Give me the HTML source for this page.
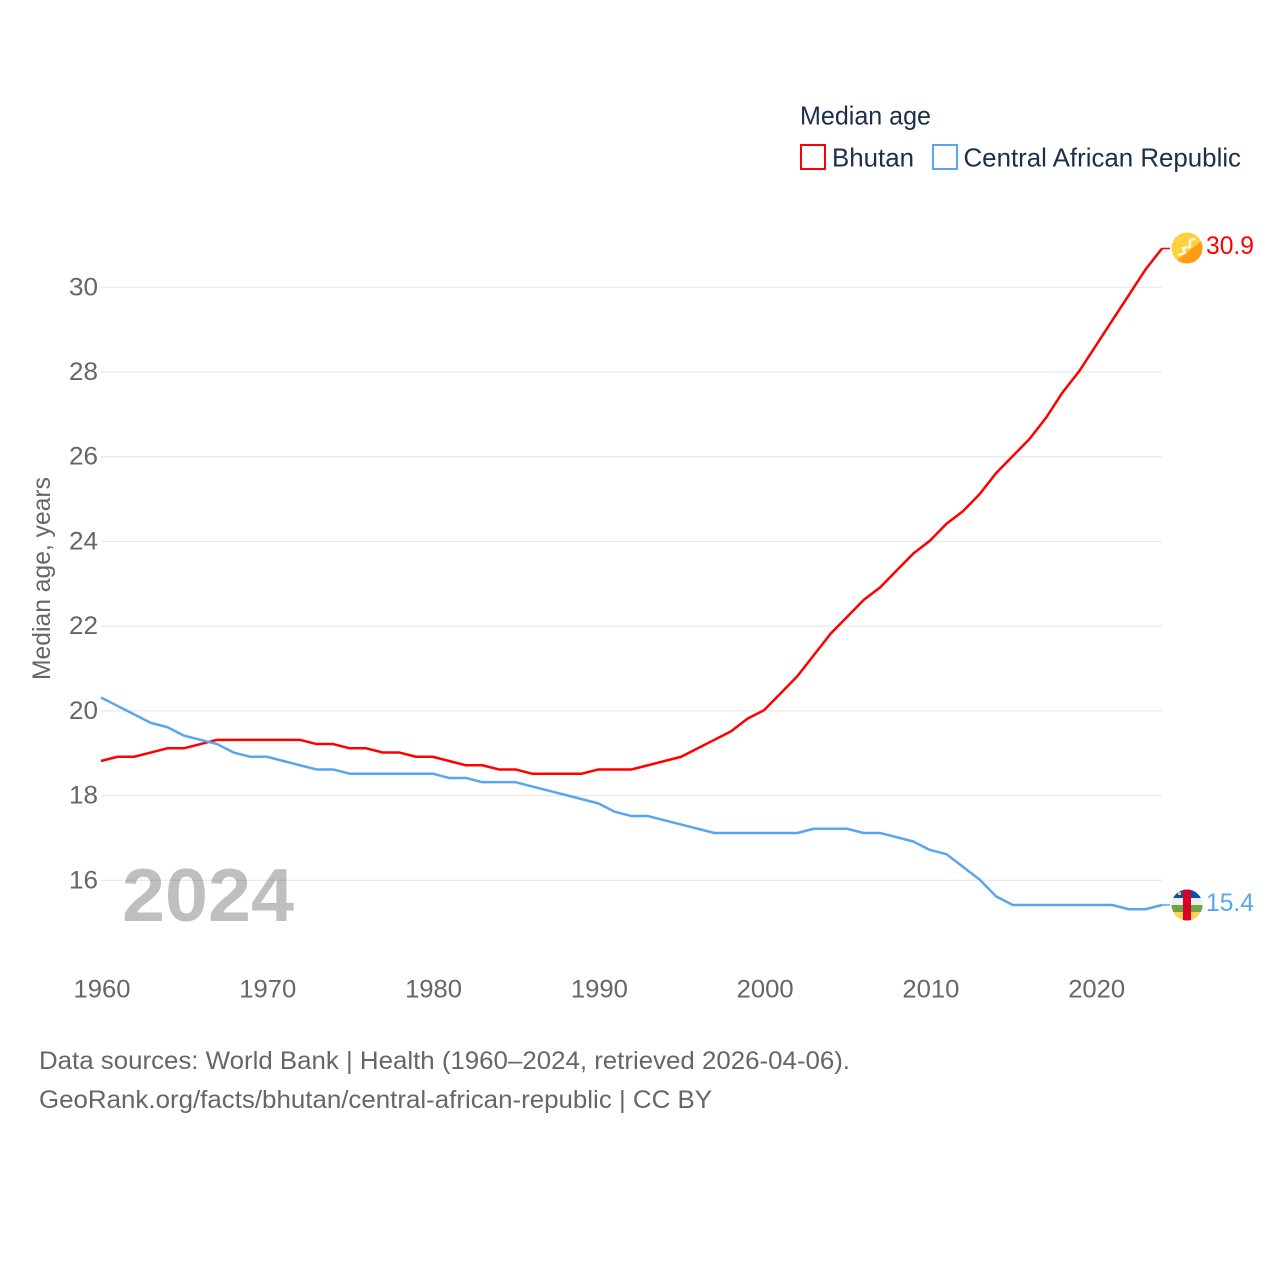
<!DOCTYPE html>
<html lang="en">
<head>
<meta charset="utf-8">
<title>Median age: Bhutan and Central African Republic</title>
<style>
html,body{margin:0;padding:0;background:#fff;width:1280px;height:1280px;overflow:hidden}
svg{display:block}
text{font-family:"Liberation Sans",sans-serif}
</style>
</head>
<body>
<svg id="chart" xmlns="http://www.w3.org/2000/svg" width="1280" height="1280" viewBox="0 0 1280 1280">
  <defs>
    <clipPath id="clip-bt"><circle cx="1187" cy="248" r="15.5"/></clipPath>
    <clipPath id="clip-cf"><circle cx="1187" cy="905" r="15.5"/></clipPath>
  </defs>
  <rect x="0" y="0" width="1280" height="1280" fill="#fff"/>

  <g id="grid"></g>
  <text x="122" y="921" font-size="75" font-weight="700" fill="#000" fill-opacity="0.25" textLength="172" lengthAdjust="spacingAndGlyphs">2024</text>
  <g id="y-ticks"></g>
  <g id="x-ticks"></g>
  <text transform="translate(50,680) rotate(-90)" font-size="25" fill="#666" textLength="203" lengthAdjust="spacingAndGlyphs">Median age, years</text>

  <g transform="translate(0,-0.7)">
    <polyline id="line-bhutan" fill="none" stroke="#ff0000" stroke-width="2.5" stroke-linejoin="round"/>
    <polyline id="line-car" fill="none" stroke="#5aa5f0" stroke-width="2.5" stroke-linejoin="round"/>
    <line id="stub-bhutan" stroke="#ff0000" stroke-width="1.5"/>
    <line id="stub-car" stroke="#5aa5f0" stroke-width="1.5"/>
  </g>

  <g clip-path="url(#clip-bt)">
    <rect x="1170" y="231" width="34" height="34" fill="#ffd040"/>
    <polygon points="1210,234 1210,266 1170,266" fill="#ff9c14"/>
    <polyline points="1178,255 1185,253 1183,248 1190,247 1190,240 1195,239" fill="none" stroke="#fff6e0" stroke-width="2.4"/>
  </g>
  <g clip-path="url(#clip-cf)">
    <rect x="1170" y="889" width="34" height="9" fill="#0f4fa8"/>
    <rect x="1170" y="898" width="34" height="7" fill="#eeeeee"/>
    <rect x="1170" y="905" width="34" height="7" fill="#6da544"/>
    <rect x="1170" y="912" width="34" height="9" fill="#ffd34d"/>
    <rect x="1183" y="889" width="8" height="32" fill="#d80027"/>
    <circle cx="1179.5" cy="893.5" r="1.6" fill="#ffd34d"/>
  </g>

  <text id="value-bhutan" x="1206" y="254" font-size="25" fill="#ff0000" textLength="48" lengthAdjust="spacingAndGlyphs">30.9</text>
  <text id="value-car" x="1206" y="911" font-size="25" fill="#5aa5f0" textLength="48" lengthAdjust="spacingAndGlyphs">15.4</text>

  <g>
    <text x="800" y="124.5" font-size="26" fill="#1b2e4b" textLength="131" lengthAdjust="spacingAndGlyphs">Median age</text>
    <rect x="801" y="145" width="24" height="24" fill="#fff" stroke="#ff0000" stroke-width="2"/>
    <text x="832" y="166.5" font-size="26" fill="#1b2e4b" textLength="82" lengthAdjust="spacingAndGlyphs">Bhutan</text>
    <rect x="933" y="145" width="24" height="24" fill="#fff" stroke="#5aa5f0" stroke-width="2"/>
    <text x="963.5" y="166.5" font-size="26" fill="#1b2e4b" textLength="277.5" lengthAdjust="spacingAndGlyphs">Central African Republic</text>
  </g>

  <text x="39" y="1069" font-size="25" fill="#666" textLength="811" lengthAdjust="spacingAndGlyphs">Data sources: World Bank | Health (1960–2024, retrieved 2026-04-06).</text>
  <text x="39" y="1108" font-size="25" fill="#666" textLength="673" lengthAdjust="spacingAndGlyphs">GeoRank.org/facts/bhutan/central-african-republic | CC BY</text>
</svg>
<script>
const years = [1960,1961,1962,1963,1964,1965,1966,1967,1968,1969,1970,1971,1972,1973,1974,1975,1976,1977,1978,1979,1980,1981,1982,1983,1984,1985,1986,1987,1988,1989,1990,1991,1992,1993,1994,1995,1996,1997,1998,1999,2000,2001,2002,2003,2004,2005,2006,2007,2008,2009,2010,2011,2012,2013,2014,2015,2016,2017,2018,2019,2020,2021,2022,2023,2024];
const bhutanValues = [18.8,18.9,18.9,19.0,19.1,19.1,19.2,19.3,19.3,19.3,19.3,19.3,19.3,19.2,19.2,19.1,19.1,19.0,19.0,18.9,18.9,18.8,18.7,18.7,18.6,18.6,18.5,18.5,18.5,18.5,18.6,18.6,18.6,18.7,18.8,18.9,19.1,19.3,19.5,19.8,20.0,20.4,20.8,21.3,21.8,22.2,22.6,22.9,23.3,23.7,24.0,24.4,24.7,25.1,25.6,26.0,26.4,26.9,27.5,28.0,28.6,29.2,29.8,30.4,30.9];
const carValues = [20.3,20.1,19.9,19.7,19.6,19.4,19.3,19.2,19.0,18.9,18.9,18.8,18.7,18.6,18.6,18.5,18.5,18.5,18.5,18.5,18.5,18.4,18.4,18.3,18.3,18.3,18.2,18.1,18.0,17.9,17.8,17.6,17.5,17.5,17.4,17.3,17.2,17.1,17.1,17.1,17.1,17.1,17.1,17.2,17.2,17.2,17.1,17.1,17.0,16.9,16.7,16.6,16.3,16.0,15.6,15.4,15.4,15.4,15.4,15.4,15.4,15.4,15.3,15.3,15.4];
const yTickValues = [16,18,20,22,24,26,28,30];
const xTickValues = [1960,1970,1980,1990,2000,2010,2020];

const SVG_NS = 'http://www.w3.org/2000/svg';
function xScale(year) { return 101 + (year - 1960) * (1162 - 101) / 64; }
function yScale(value) { return 880.3 - (value - 16) * (880.3 - 287.3) / 14; }

const gridGroup = document.getElementById('grid');
const yTickGroup = document.getElementById('y-ticks');
const xTickGroup = document.getElementById('x-ticks');

yTickValues.forEach(function (v) {
  const gridLine = document.createElementNS(SVG_NS, 'line');
  
  
  gridLine.setAttribute('x1', 101);
  gridLine.setAttribute('x2', 1162);
  gridLine.setAttribute('y1', yScale(v));
  gridLine.setAttribute('y2', yScale(v));
  gridLine.setAttribute('stroke', '#e8e8e8');
  gridLine.setAttribute('stroke-width', '1.2');
  gridGroup.appendChild(gridLine);

  const label = document.createElementNS(SVG_NS, 'text');
  
  
  label.setAttribute('x', 69);
  label.setAttribute('y', yScale(v) + 8);
  label.setAttribute('font-size', '25');
  label.setAttribute('fill', '#666');
  label.setAttribute('textLength', '29');
  label.setAttribute('lengthAdjust', 'spacingAndGlyphs');
  label.textContent = String(v);
  yTickGroup.appendChild(label);
});

xTickValues.forEach(function (year) {
  const label = document.createElementNS(SVG_NS, 'text');
  
  
  label.setAttribute('x', xScale(year) - 27.5);
  label.setAttribute('y', 997.5);
  label.setAttribute('font-size', '25');
  label.setAttribute('fill', '#666');
  label.setAttribute('textLength', '57');
  label.setAttribute('lengthAdjust', 'spacingAndGlyphs');
  label.textContent = String(year);
  xTickGroup.appendChild(label);
});

function pointsFor(values) {
  return values.map(function (v, i) {
    return xScale(years[i]).toFixed(2) + ',' + yScale(v).toFixed(2);
  }).join(' ');
}
document.getElementById('line-bhutan').setAttribute('points', pointsFor(bhutanValues));
document.getElementById('line-car').setAttribute('points', pointsFor(carValues));

function placeStub(id, values) {
  const stub = document.getElementById(id);
  const lastValue = values[values.length - 1];
  const lastX = xScale(years[years.length - 1]);
  stub.setAttribute('x1', lastX);
  stub.setAttribute('x2', lastX + 8);
  stub.setAttribute('y1', yScale(lastValue));
  stub.setAttribute('y2', yScale(lastValue));
}
placeStub('stub-bhutan', bhutanValues);
placeStub('stub-car', carValues);
</script>
</body>
</html>
